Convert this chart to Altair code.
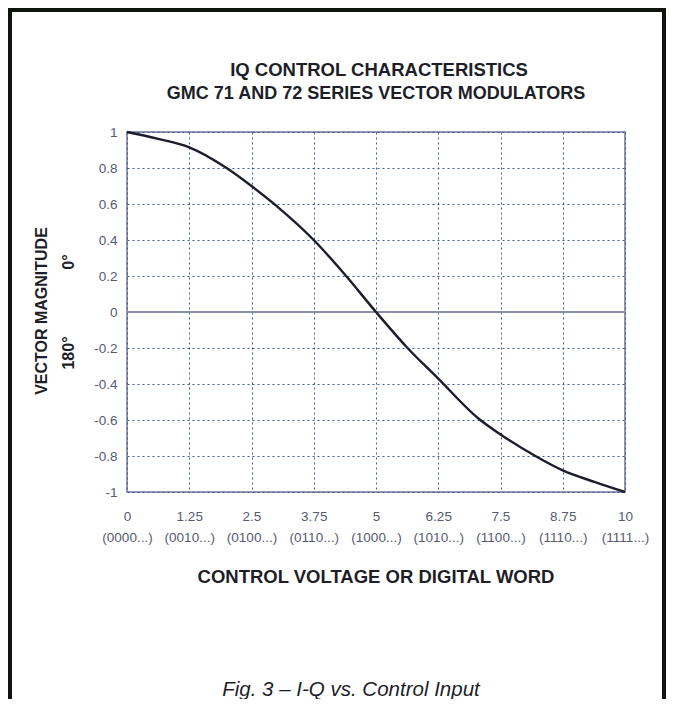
import altair as alt
import pandas as pd

# ---- data ----
ctrl_x = [0, 0.625, 1.25, 2.0, 2.5, 3.0, 3.75, 4.4, 5.0, 5.6, 6.25, 7.05, 7.5, 8.2, 8.75, 9.4, 10]
magnitude = [1.0, 0.962, 0.915, 0.80, 0.70, 0.59, 0.40, 0.20, 0.0, -0.19, -0.37, -0.59, -0.68, -0.80, -0.88, -0.945, -1.0]

x_ticks = [0, 1.25, 2.5, 3.75, 5, 6.25, 7.5, 8.75, 10]
x_tick_text = ["0", "1.25", "2.5", "3.75", "5", "6.25", "7.5", "8.75", "10"]
x_codes = ["(0000...)", "(0010...)", "(0100...)", "(0110...)", "(1000...)",
           "(1010...)", "(1100...)", "(1110...)", "(1111...)"]
y_ticks = [1, 0.8, 0.6, 0.4, 0.2, 0, -0.2, -0.4, -0.6, -0.8, -1]
y_tick_text = ["1", "0.8", "0.6", "0.4", "0.2", "0", "-0.2", "-0.4", "-0.6", "-0.8", "-1"]

title_lines = ["IQ CONTROL CHARACTERISTICS", "GMC 71 AND 72 SERIES VECTOR MODULATORS"]
y_title = "VECTOR MAGNITUDE"
y_sub = ["180°", "0°"]
x_title = "CONTROL VOLTAGE OR DIGITAL WORD"
caption = "Fig. 3 – I-Q vs. Control Input"

df = pd.DataFrame({"x": ctrl_x, "y": magnitude})

# label expressions built from the lists
x_expr = ""
for v, t, c in zip(x_ticks, x_tick_text, x_codes):
    x_expr += f"abs(datum.value - {v}) < 0.001 ? ['{t}', '{c}'] : "
x_expr += "''"
y_expr = ""
for v, t in zip(y_ticks, y_tick_text):
    y_expr += f"abs(datum.value - ({v})) < 0.001 ? '{t}' : "
y_expr += "''"

FONT = "Liberation Sans"
LABEL_COLOR = "#565b70"

xs = alt.Scale(domain=[0, 10], nice=False, zero=False)
ys = alt.Scale(domain=[-1, 1], nice=False, zero=False)

line = alt.Chart(df).mark_line(color="#1c1c2c", strokeWidth=2.4, interpolate="monotone").encode(
    x=alt.X("x:Q", scale=xs,
            axis=alt.Axis(values=x_ticks, tickCount=20, labelExpr=x_expr, title=None, ticks=False, domain=False,
                          labelFont=FONT, labelFontSize=13.5, labelColor=LABEL_COLOR,
                          labelLineHeight=21, labelPadding=17, labelBaseline="top",
                          labelFlush=False, labelOverlap=False,
                          grid=True, gridDash=[2, 3], gridColor="#3f5a9c", gridWidth=1)),
    y=alt.Y("y:Q", scale=ys,
            axis=alt.Axis(values=y_ticks, tickCount=20, labelExpr=y_expr, title=None, ticks=False, domain=False,
                          labelFont=FONT, labelFontSize=13.5, labelColor=LABEL_COLOR,
                          labelPadding=10, labelFlush=False, labelOverlap=False,
                          grid=True, gridDash=[2, 3], gridColor="#3f5a9c", gridWidth=1)),
)

zero = alt.Chart(df).mark_rule(color="#8a8fa3", strokeWidth=2).encode(y=alt.datum(0, scale=ys))

frame = alt.Chart(df).mark_rect(fill=None, stroke="#0f140f", strokeWidth=4).encode(
    x=alt.value(-117), x2=alt.value(537), y=alt.value(-122), y2=alt.value(620))

one = pd.DataFrame({"k": [0]})

def txt(text, x, y, size, bold=True, italic=False, angle=0, baseline="alphabetic"):
    return alt.Chart(one).mark_text(
        text=text, font=FONT, fontSize=size, fontWeight="bold" if bold else "normal",
        fontStyle="italic" if italic else "normal", angle=angle, align="center",
        baseline=baseline, color="#1e1e28").encode(x=alt.value(x), y=alt.value(y))

texts = [
    txt(title_lines[0], 252, -56, 18.5),
    txt(title_lines[1], 249, -33, 18),
    txt(y_title, -85, 179, 16, angle=270, baseline="middle"),
    txt(y_sub[0], -58, 221, 16, angle=270, baseline="middle"),
    txt(y_sub[1], -58, 130, 16, angle=270, baseline="middle"),
    txt(x_title, 249, 445, 18.5, baseline="middle"),
    txt(caption, 224, 558, 20.5, bold=False, italic=True, baseline="middle"),
]

chart = alt.layer(frame, zero, line, *texts).properties(
    width=498, height=360,
    autosize=alt.AutoSizeParams(type="none"),
    padding={"left": 119, "top": 124, "right": 41, "bottom": 207},
    background="#ffffff",
).configure_view(stroke="#6f7690", strokeWidth=1.5)

chart.save("out.html", embed_options={"renderer": "svg", "actions": False})
